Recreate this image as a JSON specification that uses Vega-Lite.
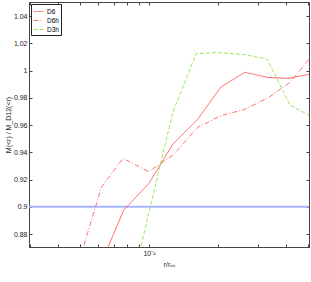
{
  "$schema": "https://vega.github.io/schema/vega-lite/v6.json",
  "width": 280,
  "height": 245,
  "autosize": {"type": "none"},
  "padding": {"left": 29, "top": 2, "right": 2, "bottom": 35},
  "config": {
    "view": {"stroke": "#444", "strokeWidth": 1},
    "font": "Liberation Sans",
    "axis": {"grid": false, "domainColor": "#444", "tickColor": "#444", "labelColor": "#222", "titleColor": "#222", "labelFontSize": 7, "titleFontSize": 7, "titleFontWeight": "normal", "tickSize": -3, "labelPadding": 5}
  },
  "datasets": {
    "lines": [
      {"r": 0.00609, "m": 0.856, "series": "D6"},
      {"r": 0.00775, "m": 0.8976, "series": "D6"},
      {"r": 0.0100, "m": 0.9172, "series": "D6"},
      {"r": 0.01273, "m": 0.946, "series": "D6"},
      {"r": 0.01637, "m": 0.9643, "series": "D6"},
      {"r": 0.0207, "m": 0.988, "series": "D6"},
      {"r": 0.0263, "m": 0.9987, "series": "D6"},
      {"r": 0.0333, "m": 0.9949, "series": "D6"},
      {"r": 0.0411, "m": 0.9943, "series": "D6"},
      {"r": 0.0503, "m": 0.9973, "series": "D6"},
      {"r": 0.00489, "m": 0.8577, "series": "D6h"},
      {"r": 0.0062, "m": 0.9147, "series": "D6h"},
      {"r": 0.0077, "m": 0.9355, "series": "D6h"},
      {"r": 0.00997, "m": 0.9258, "series": "D6h"},
      {"r": 0.01273, "m": 0.9379, "series": "D6h"},
      {"r": 0.01637, "m": 0.9584, "series": "D6h"},
      {"r": 0.0207, "m": 0.9669, "series": "D6h"},
      {"r": 0.0262, "m": 0.9714, "series": "D6h"},
      {"r": 0.0336, "m": 0.9804, "series": "D6h"},
      {"r": 0.0416, "m": 0.9914, "series": "D6h"},
      {"r": 0.0503, "m": 1.0083, "series": "D6h"},
      {"r": 0.00783, "m": 0.82, "series": "D3h"},
      {"r": 0.0100, "m": 0.896, "series": "D3h"},
      {"r": 0.01273, "m": 0.9694, "series": "D3h"},
      {"r": 0.01611, "m": 1.0124, "series": "D3h"},
      {"r": 0.0200, "m": 1.0132, "series": "D3h"},
      {"r": 0.0263, "m": 1.0117, "series": "D3h"},
      {"r": 0.0330, "m": 1.0083, "series": "D3h"},
      {"r": 0.0416, "m": 0.9745, "series": "D3h"},
      {"r": 0.0503, "m": 0.9672, "series": "D3h"}
    ]
  },
  "layer": [
    {
      "data": {"values": [{"ref": 0.9}]},
      "mark": {"type": "rule", "color": "#a8b4ff", "strokeWidth": 2},
      "encoding": {
        "y": {"field": "ref", "type": "quantitative", "scale": {"domain": [0.8705, 1.0503], "nice": false, "zero": false},
          "axis": {"orient": "right", "labels": false, "title": null, "values": [0.88, 0.9, 0.92, 0.94, 0.96, 0.98, 1, 1.02, 1.04], "domain": false}}
      }
    },
    {
      "data": {"name": "lines"},
      "mark": {"type": "point", "opacity": 0},
      "encoding": {
        "x": {"field": "r", "type": "quantitative", "scale": {"type": "log", "domain": [0.00298, 0.0503], "nice": false},
          "axis": {"orient": "top", "labels": false, "title": null, "domain": false, "values": [0.003, 0.004, 0.005, 0.006, 0.007, 0.008, 0.009, 0.01, 0.02, 0.03, 0.04, 0.05]}}
      }
    },
    {
      "data": {"name": "lines"},
      "mark": {"type": "line", "strokeWidth": 1, "clip": true},
      "encoding": {
        "x": {"field": "r", "type": "quantitative", "scale": {"type": "log", "domain": [0.00298, 0.0503], "nice": false},
          "axis": {"orient": "bottom", "title": "r/rᵥᵢᵣ", "titlePadding": 4, "values": [0.003, 0.004, 0.005, 0.006, 0.007, 0.008, 0.009, 0.01, 0.02, 0.03, 0.04, 0.05],
            "labelExpr": "datum.value == 0.01 ? '10⁻²' : ''", "labelFlush": false, "labelOverlap": false}},
        "y": {"field": "m", "type": "quantitative", "scale": {"domain": [0.8705, 1.0503], "nice": false, "zero": false},
          "axis": {"orient": "left", "title": "M(<r) / M_D12(<r)", "titlePadding": 2, "values": [0.88, 0.9, 0.92, 0.94, 0.96, 0.98, 1, 1.02, 1.04], "format": "~g"}},
        "color": {"field": "series", "type": "nominal", "scale": {"domain": ["D6", "D6h", "D3h"], "range": ["#ff6060", "#ff7070", "#99e860"]},
          "legend": {"title": null, "orient": "top-left", "offset": 2, "padding": 2, "strokeColor": "#222", "fillColor": "white", "labelFontSize": 6.5, "symbolType": "stroke", "symbolSize": 100, "symbolStrokeWidth": 1, "rowPadding": 0, "labelOffset": 3, "cornerRadius": 0}},
        "strokeDash": {"field": "series", "type": "nominal", "scale": {"domain": ["D6", "D6h", "D3h"], "range": [[1, 0], [5, 2, 1, 2], [4, 2]]}, "legend": {"title": null}},
        "order": {"field": "r", "type": "quantitative"}
      }
    }
  ],
  "resolve": {"axis": {"x": "independent", "y": "independent"}}
}
